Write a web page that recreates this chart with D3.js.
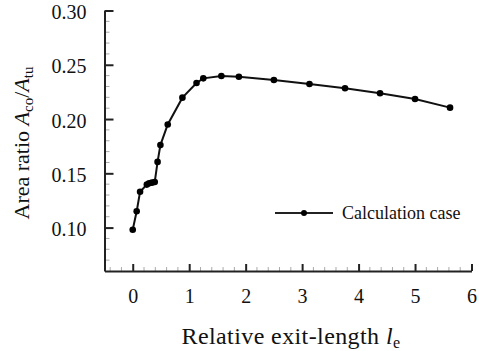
<!DOCTYPE html>
<html><head><meta charset="utf-8">
<script src="https://cdn.jsdelivr.net/npm/d3@7"></script>
<style>body{margin:0;background:#fff}svg{display:block} svg text{font-family:"Liberation Serif" !important}</style>
</head><body><svg id="c" width="479" height="351"></svg>
<script>
const lengths = [0, 0.07, 0.13, 0.25, 0.29, 0.34, 0.39, 0.44, 0.49, 0.62, 0.88, 1.13, 1.25, 1.57, 1.88, 2.5, 3.13, 3.76, 4.38, 5.0, 5.62];
const ratios  = [0.098, 0.115, 0.133, 0.1396, 0.1408, 0.1414, 0.142, 0.1605, 0.176, 0.195, 0.2197, 0.2332, 0.2375, 0.2397, 0.239, 0.236, 0.2323, 0.2283, 0.2237, 0.2185, 0.2105];
const xTicks = [0, 1, 2, 3, 4, 5, 6];
const yTicks = [0.10, 0.15, 0.20, 0.25, 0.30];
const seriesName = "Calculation case";

const svg = d3.select("#c");
const x = d3.scaleLinear().domain([-0.5, 6]).range([104.5, 471.5]);
const y = d3.scaleLinear().domain([0.06, 0.30]).range([271, 10.5]);

const xMinor = d3.range(-0.4, 6.0001, 0.2).filter(v => Math.abs(v - Math.round(v)) > 1e-6);
const yMinor = d3.range(0.07, 0.30, 0.01).filter(v => Math.abs(v*20 - Math.round(v*20)) > 1e-6);
svg.append("g").selectAll("line").data(xMinor).join("line")
  .attr("x1", d => x(d)).attr("x2", d => x(d)).attr("y1", y(0.06)).attr("y2", y(0.06) - 4)
  .attr("stroke", "#aaa").attr("stroke-width", 1);
svg.append("g").selectAll("line").data(yMinor).join("line")
  .attr("y1", d => y(d)).attr("y2", d => y(d)).attr("x1", x(-0.5)).attr("x2", x(-0.5) + 5)
  .attr("stroke", "#aaa").attr("stroke-width", 1);

const xAxis = d3.axisBottom(x).tickValues(xTicks).tickSizeInner(-7).tickSizeOuter(0).tickPadding(18).tickFormat(d3.format("d"));
const gx = svg.append("g").attr("transform", `translate(0,${y(0.06)})`).call(xAxis);
gx.select(".domain").attr("stroke", "#222").attr("stroke-width", 2);
gx.selectAll(".tick line").attr("stroke", "#222").attr("stroke-width", 2);
gx.selectAll("text").attr("font-size", 20).attr("fill", "#111");

const yAxis = d3.axisLeft(y).tickValues(yTicks).tickSizeInner(-9).tickSizeOuter(0).tickPadding(18).tickFormat(d3.format(".2f"));
const gy = svg.append("g").attr("transform", `translate(${x(-0.5)},0)`).call(yAxis);
gy.select(".domain").attr("stroke", "#222").attr("stroke-width", 2);
gy.selectAll(".tick line").attr("stroke", "#222").attr("stroke-width", 2);
gy.selectAll("text").attr("font-size", 20).attr("fill", "#111").attr("dy", "0.4em");

const pts = lengths.map((l, i) => [l, ratios[i]]);
svg.append("path").datum(pts)
  .attr("d", d3.line().x(d => x(d[0])).y(d => y(d[1])))
  .attr("fill", "none").attr("stroke", "#111").attr("stroke-width", 2);
svg.append("g").selectAll("circle").data(pts).join("circle")
  .attr("cx", d => x(d[0])).attr("cy", d => y(d[1])).attr("r", 3.3).attr("fill", "#000");

const lg = svg.append("g").attr("transform", "translate(275,213)");
lg.append("line").attr("x1", 0).attr("x2", 58).attr("stroke", "#222").attr("stroke-width", 2);
lg.append("circle").attr("cx", 29).attr("r", 3).attr("fill", "#000");
lg.append("text").attr("x", 67).attr("y", 6).attr("font-size", 18).attr("fill", "#111").text(seriesName);

const xt = svg.append("text").attr("x", 291).attr("y", 344).attr("text-anchor", "middle").attr("font-size", 24).attr("letter-spacing", 0.4).attr("fill", "#111");
xt.append("tspan").text("Relative exit-length ");
xt.append("tspan").attr("font-style", "italic").text("l");
xt.append("tspan").attr("font-size", 16).attr("dy", 4).text("e");

const yt = svg.append("text").attr("transform", "translate(29,143) rotate(-90)").attr("text-anchor", "middle").attr("font-size", 22).attr("fill", "#111");
yt.append("tspan").text("Area ratio ");
yt.append("tspan").attr("font-style", "italic").text("A");
yt.append("tspan").attr("font-size", 15).attr("dy", 4).text("co");
yt.append("tspan").attr("dy", -4).text("/");
yt.append("tspan").attr("font-style", "italic").text("A");
yt.append("tspan").attr("font-size", 15).attr("dy", 4).text("tu");
</script></body></html>
